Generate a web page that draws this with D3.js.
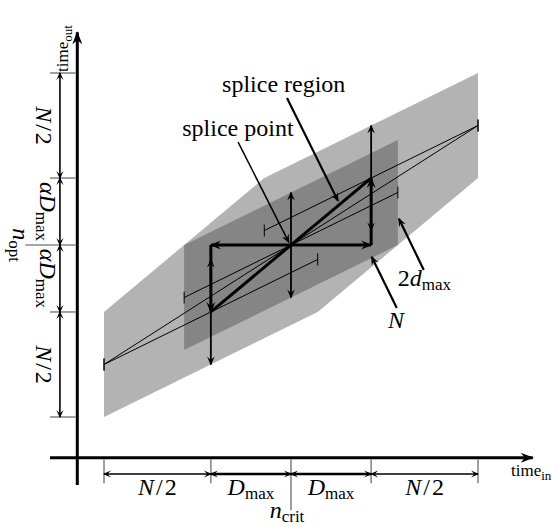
<!DOCTYPE html>
<html>
<head>
<meta charset="utf-8">
<script src="https://cdn.jsdelivr.net/npm/d3@7"></script>
<style>
body { margin: 0; background: #fff; }
svg { display: block; }
</style>
</head>
<body>
<svg id="chart" width="559" height="527" font-family="'Liberation Serif', 'Times New Roman', 'DejaVu Serif', serif"></svg>
<script>
// diagram units: n_crit = 0 horizontally, n_opt = 0 vertically
var xTicks = [-7, -3, 3, 7];
var yTicks = [6.55, 2.55, -2.55, -6.55];
var halfBand = 2;
var splicePath = [[-3, -2.55], [0, 0], [3, 2.55]];
var lightRegion = [[-7, -6.55], [1, -2.55], [7, 2.55], [7, 6.55], [-1, 2.55], [-7, -2.55]];
var darkRegion = [[-4, -4], [4, 0], [4, 4], [-4, 0]];
var mainLine = [[-7, -4.55], [7, 4.55]];
var spliceLines = [
  [[-7, -4.55], [1, -0.55]],
  [[-4, -2], [4, 2]],
  [[-1, 0.55], [7, 4.55]]
];
var xDims = [[-7, -3, "N/2"], [-3, 0, "Dmax"], [0, 3, "Dmax"], [3, 7, "N/2"]];
var yDims = [[6.55, 2.55, "N/2"], [2.55, 0, "aDmax"], [0, -2.55, "aDmax"], [-2.55, -6.55, "N/2"]];
var callouts = [
  {label: "region", at: [-2.58, 5.83], from: [-0.15, 5.6], to: [1.76, 1.68], w: 2.2},
  {label: "point", at: [-4.07, 4.15], from: [-1.98, 3.92], to: [-0.08, 0.1], w: 1.5},
  {label: "2dmax", at: [4.0, -1.56], from: [4.97, -0.95], to: [4.04, 1.0], w: 2.2},
  {label: "N", at: [3.63, -3.16], from: [3.96, -2.4], to: [3.02, -0.45], w: 2.2}
];

var labels = {
  "N/2": [{t: "N", i: 1}, {t: "/", dx: 2}, {t: "2", dx: 2}],
  "Dmax": [{t: "D", i: 1}, {t: "max", s: 1}],
  "aDmax": [{t: "\u03b1", i: 1}, {t: "D", i: 1}, {t: "max", s: 1}],
  "2dmax": [{t: "2"}, {t: "d", i: 1}, {t: "max", s: 1}],
  "N": [{t: "N", i: 1}],
  "region": [{t: "splice region"}],
  "point": [{t: "splice point"}],
  "nopt": [{t: "n", i: 1}, {t: "opt", s: 1}],
  "ncrit": [{t: "n", i: 1}, {t: "crit", s: 1}],
  "tout": [{t: "time"}, {t: "out", s: 1}],
  "tin": [{t: "time"}, {t: "in", s: 1}]
};

var FONT = "'Liberation Serif', 'Times New Roman', 'DejaVu Serif', serif";
var svg = d3.select("#chart");
var x = d3.scaleLinear().domain([-7, 7]).range([104, 478]);
var y = d3.scaleLinear().domain([-6.55, 6.55]).range([417, 73]);
var line = d3.line().x(function(d) { return x(d[0]); }).y(function(d) { return y(d[1]); });

var defs = svg.append("defs");
function marker(id, len, half, notch) {
  defs.append("marker")
    .attr("id", id)
    .attr("markerUnits", "userSpaceOnUse")
    .attr("viewBox", (-len - 1) + " " + (-half - 1) + " " + (len + 2) + " " + (2 * half + 2))
    .attr("markerWidth", len + 2).attr("markerHeight", 2 * half + 2)
    .attr("refX", -1).attr("refY", 0)
    .attr("orient", "auto-start-reverse")
    .append("path")
    .attr("d", "M0,0L" + (-len) + "," + (-half) + "L" + (-notch) + ",0L" + (-len) + "," + half + "Z")
    .attr("fill", "#000");
}
marker("axisHead", 13, 5, 9);
marker("thickHead", 11, 4.5, 7);
marker("medHead", 9, 3.8, 5.5);
marker("dimHead", 8, 3.6, 4.5);

function addMath(sel, key, size, sub) {
  var down = false;
  sel.attr("font-size", size).attr("font-family", FONT).attr("fill", "#000");
  labels[key].forEach(function(p) {
    var ts = sel.append("tspan").text(p.t);
    if (p.i) ts.attr("font-style", "italic");
    if (p.s) { ts.attr("font-size", sub).attr("dy", 4); down = true; }
    else if (down) { ts.attr("dy", -4); down = false; }
    if (p.dx) ts.attr("dx", p.dx);
  });
  return sel;
}

// regions
svg.append("path").datum(lightRegion).attr("d", function(d) { return line(d) + "Z"; }).attr("fill", "#b3b3b3");
svg.append("path").datum(darkRegion).attr("d", function(d) { return line(d) + "Z"; }).attr("fill", "#858585");

// thin lines with end ticks
var thin = [mainLine].concat(spliceLines);
svg.selectAll(".thin").data(thin).enter().append("path")
  .attr("d", line).attr("stroke", "#000").attr("stroke-width", 1).attr("fill", "none");
var ends = [];
thin.forEach(function(s) { ends.push(s[0], s[1]); });
svg.selectAll(".endtick").data(ends).enter().append("line")
  .attr("x1", function(d) { return x(d[0]); }).attr("x2", function(d) { return x(d[0]); })
  .attr("y1", function(d) { return y(d[1]) - 6; }).attr("y2", function(d) { return y(d[1]) + 6; })
  .attr("stroke", "#000").attr("stroke-width", 1);

// band-height arrows at each splice point
svg.selectAll(".band").data(splicePath).enter().append("line")
  .attr("x1", function(d) { return x(d[0]); }).attr("x2", function(d) { return x(d[0]); })
  .attr("y1", function(d) { return y(d[1] - halfBand); }).attr("y2", function(d) { return y(d[1] + halfBand); })
  .attr("stroke", "#000").attr("stroke-width", 1.8)
  .attr("marker-start", "url(#medHead)").attr("marker-end", "url(#medHead)");

// thick splice path
var p0 = splicePath[0], p1 = splicePath[1], p2 = splicePath[2];
svg.append("path").datum([p0, p2]).attr("d", line)
  .attr("stroke", "#000").attr("stroke-width", 3).attr("fill", "none");
svg.append("path").datum([[p0[0], p1[1]], [p2[0], p1[1]]]).attr("d", line)
  .attr("stroke", "#000").attr("stroke-width", 3).attr("fill", "none")
  .attr("marker-start", "url(#thickHead)").attr("marker-end", "url(#thickHead)");
[[[p0[0], p1[1]], p0], [[p2[0], p1[1]], p2]].forEach(function(seg) {
  svg.append("path").datum(seg).attr("d", line)
    .attr("stroke", "#000").attr("stroke-width", 3).attr("fill", "none")
    .attr("marker-end", "url(#thickHead)");
});

// callouts
callouts.forEach(function(c) {
  svg.append("path").datum([c.from, c.to]).attr("d", line)
    .attr("stroke", "#000").attr("stroke-width", c.w).attr("fill", "none")
    .attr("marker-end", "url(#medHead)");
  addMath(svg.append("text").attr("x", x(c.at[0])).attr("y", y(c.at[1])), c.label, 24, 17);
});

// axes
var yAxisX = -8, xAxisY = -8.1;
svg.append("path").datum([[yAxisX, -9.14], [yAxisX, 8.1]]).attr("d", line)
  .attr("stroke", "#000").attr("stroke-width", 3).attr("marker-end", "url(#axisHead)");
svg.append("path").datum([[-9.02, xAxisY], [9.05, xAxisY]]).attr("d", line)
  .attr("stroke", "#000").attr("stroke-width", 3).attr("marker-end", "url(#axisHead)");

// tick marks
svg.selectAll(".ytick").data(yTicks.concat([0])).enter().append("line")
  .attr("x1", function(d) { return d === 0 ? x(-9.95) : x(-9.02); }).attr("x2", x(yAxisX) - 1.5)
  .attr("y1", function(d) { return y(d); }).attr("y2", function(d) { return y(d); })
  .attr("stroke", "#888").attr("stroke-width", 1.6);
svg.selectAll(".xtick").data(xTicks.concat([0])).enter().append("line")
  .attr("x1", function(d) { return x(d); }).attr("x2", function(d) { return x(d); })
  .attr("y1", y(xAxisY) + 1.5).attr("y2", function(d) { return d === 0 ? y(-10.1) : y(-9.07); })
  .attr("stroke", "#888").attr("stroke-width", 1.6);

// dimension arrows
var dimX = -8.65, dimY = -8.72;
xDims.forEach(function(d) {
  svg.append("path").datum([[d[0], dimY], [d[1], dimY]]).attr("d", line)
    .attr("stroke", "#000").attr("stroke-width", d[2] === "Dmax" ? 2.4 : 1.6)
    .attr("marker-start", "url(#dimHead)").attr("marker-end", "url(#dimHead)");
  addMath(svg.append("text").attr("x", x((d[0] + d[1]) / 2)).attr("y", 495).attr("text-anchor", "middle"), d[2], 24, 17);
});
yDims.forEach(function(d) {
  svg.append("path").datum([[dimX, d[0]], [dimX, d[1]]]).attr("d", line)
    .attr("stroke", "#000").attr("stroke-width", 1.6)
    .attr("marker-start", "url(#dimHead)").attr("marker-end", "url(#dimHead)");
  var bx = d[2] === "N/2" ? 36 : 40;
  addMath(svg.append("text").attr("text-anchor", "middle")
    .attr("transform", "translate(" + bx + "," + y((d[0] + d[1]) / 2) + ") rotate(90)"), d[2], 24, 17);
});

// axis names and reference points
addMath(svg.append("text").attr("transform", "translate(13," + y(0) + ") rotate(90)").attr("text-anchor", "middle"), "nopt", 24, 17);
addMath(svg.append("text").attr("x", x(0) - 4).attr("y", 518).attr("text-anchor", "middle"), "ncrit", 24, 17);
addMath(svg.append("text").attr("transform", "translate(68,72) rotate(-90)"), "tout", 17, 13);
addMath(svg.append("text").attr("x", 511).attr("y", 476), "tin", 17, 13);
</script>
</body>
</html>
